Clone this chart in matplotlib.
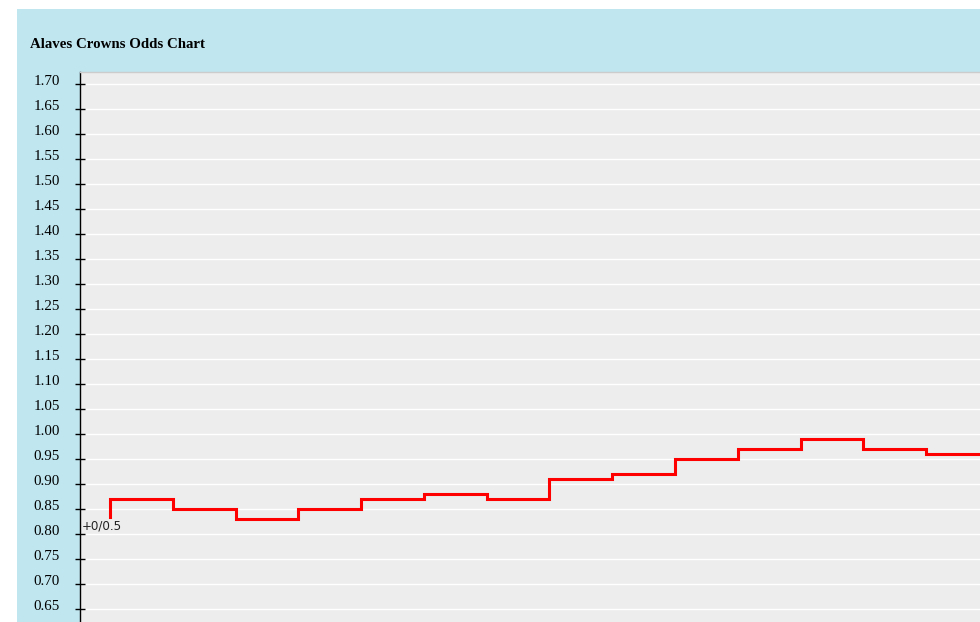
import matplotlib
matplotlib.use("Agg")
import matplotlib.pyplot as plt
from matplotlib.patches import Rectangle
from matplotlib.transforms import ScaledTranslation

title = "Alaves Crowns Odds Chart"
steps = list(range(15))
odds = [0.835, 0.87, 0.85, 0.83, 0.85, 0.87, 0.88, 0.87, 0.91, 0.92, 0.95, 0.97, 0.99, 0.97, 0.96]
start_label = "+0/0.5"
yticks = [0.65, 0.70, 0.75, 0.80, 0.85, 0.90, 0.95, 1.00, 1.05, 1.10, 1.15, 1.20,
          1.25, 1.30, 1.35, 1.40, 1.45, 1.50, 1.55, 1.60, 1.65, 1.70]

W, H = 980, 622
fig = plt.figure(figsize=(W / 100, H / 100), dpi=100)
fig.patch.set_facecolor("white")

# blue panel
fig.patches.append(Rectangle((17 / W, 0), 1 - 17 / W, (H - 9) / H, transform=fig.transFigure,
                             facecolor="#c0e6f0", edgecolor="none", zorder=0))

fig.text(30 / W, 1 - 44.5 / H, title, fontsize=10.7, fontweight="bold",
         family=["Liberation Serif", "DejaVu Serif"], ha="left", va="center")

ax = fig.add_axes([80 / W, 0, 1 - 80 / W, (H - 72) / H])
ax.set_facecolor("#ededed")
ax.set_zorder(1)

ax.plot(steps, odds, drawstyle="steps-pre", color="#ff0000", linewidth=2.2, zorder=3,
        solid_joinstyle="miter")
ax.text(-0.45, 0.816, start_label, fontsize=8.6, family="DejaVu Sans", ha="left", va="center",
        color="#222222", zorder=4)

ax.set_ylim(0.624, 1.724)
ax.set_xlim(-0.48, 13.86)
ax.set_yticks(yticks)
ax.set_yticklabels([f"{v:.2f}" for v in yticks], family=["Liberation Serif", "DejaVu Serif"],
                   fontsize=10.8)
ax.set_xticks([])
ax.tick_params(axis="y", direction="inout", length=7.2, width=1, pad=10.8, colors="black")
ax.yaxis.grid(True, color="white", linewidth=1)
ax.set_axisbelow(True)

shift = ScaledTranslation(0, 4 / 100, fig.dpi_scale_trans)
for tick in ax.yaxis.get_major_ticks():
    tick.label1.set_transform(tick.label1.get_transform() + shift)

for s in ["right", "bottom"]:
    ax.spines[s].set_visible(False)
ax.spines["top"].set_color("#cccccc")
ax.spines["top"].set_linewidth(1)
ax.spines["left"].set_color("black")
ax.spines["left"].set_linewidth(1)

fig.savefig("out.png", dpi=100)
